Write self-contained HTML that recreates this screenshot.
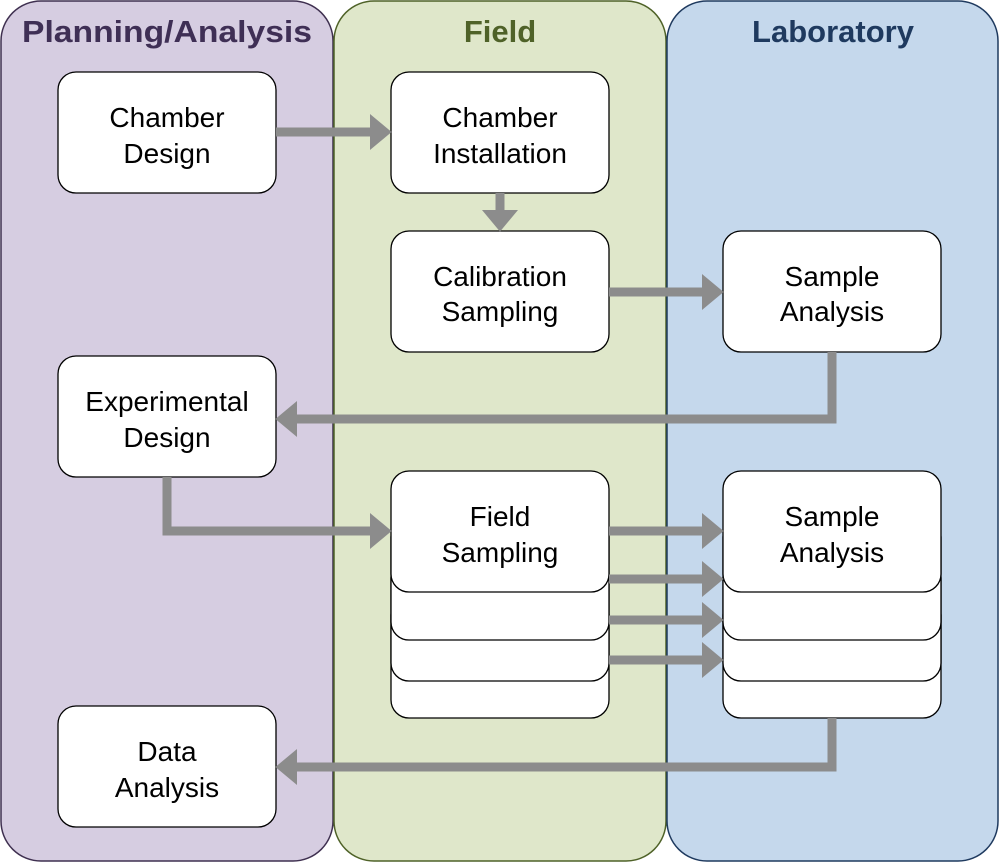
<!DOCTYPE html>
<html><head><meta charset="utf-8"><style>
html,body{margin:0;padding:0;background:#fff;}
svg{display:block;}
svg text{font-family:"Liberation Sans",Arial,sans-serif;}
</style></head><body>
<svg width="1000" height="863" viewBox="0 0 1000 863" xmlns="http://www.w3.org/2000/svg" font-family="Liberation Sans, Arial, sans-serif">
<defs>
<marker id="ah" markerWidth="3" markerHeight="4" refX="0" refY="2" orient="auto" markerUnits="strokeWidth">
<path d="M0,0 L2.4,2 L0,4 Z" fill="#8c8c8c"/>
</marker>
</defs>
<rect x="1" y="1" width="332" height="860" rx="40" fill="#d6cde1" stroke="#3f3050" stroke-width="1.5"/>
<rect x="334" y="1" width="332" height="860" rx="40" fill="#dfe7ca" stroke="#4f6228" stroke-width="1.5"/>
<rect x="667" y="1" width="331" height="860" rx="40" fill="#c5d8ec" stroke="#1f3a5f" stroke-width="1.5"/>
<g font-family="Liberation Sans, Arial, sans-serif" font-weight="bold" text-anchor="middle">
<text x="167" y="42" font-size="31" fill="#3f2f55" textLength="290" lengthAdjust="spacingAndGlyphs">Planning/Analysis</text>
<text x="500" y="42" font-size="31" fill="#4f6228">Field</text>
<text x="833" y="42" font-size="31" fill="#1f3a5f">Laboratory</text>
</g>

<g fill="#fff" stroke="#000" stroke-width="1.3">
<rect x="58" y="72" width="218" height="121" rx="18"/>
<rect x="391" y="72" width="218" height="121" rx="18"/>
<rect x="391" y="231" width="218" height="121" rx="18"/>
<rect x="723" y="231" width="218" height="121" rx="18"/>
<rect x="58" y="356" width="218" height="121" rx="18"/>
<rect x="58" y="706" width="218" height="121" rx="18"/>
<rect x="391" y="597" width="218" height="121" rx="18"/>
<rect x="391" y="560" width="218" height="121" rx="18"/>
<rect x="391" y="519" width="218" height="121" rx="18"/>
<rect x="391" y="471" width="218" height="121" rx="18"/>
<rect x="723" y="597" width="218" height="121" rx="18"/>
<rect x="723" y="560" width="218" height="121" rx="18"/>
<rect x="723" y="519" width="218" height="121" rx="18"/>
<rect x="723" y="471" width="218" height="121" rx="18"/>
</g>

<g font-family="Liberation Sans, Arial, sans-serif" font-size="28" fill="#000" text-anchor="middle">
<text x="167" y="127">Chamber</text><text x="167" y="163">Design</text>
<text x="500" y="127">Chamber</text><text x="500" y="163">Installation</text>
<text x="500" y="286">Calibration</text><text x="500" y="321">Sampling</text>
<text x="832" y="286">Sample</text><text x="832" y="321">Analysis</text>
<text x="167" y="411">Experimental</text><text x="167" y="447">Design</text>
<text x="500" y="526">Field</text><text x="500" y="562">Sampling</text>
<text x="832" y="526">Sample</text><text x="832" y="562">Analysis</text>
<text x="167" y="761">Data</text><text x="167" y="797">Analysis</text>
</g>

<g stroke="#8c8c8c" stroke-width="9" fill="none" marker-end="url(#ah)">
<path d="M276,132 H370"/>
<path d="M500,193 V210"/>
<path d="M609,292 H702"/>
<path d="M832,352 V419 H297"/>
<path d="M167,477 V531 H370"/>
<path d="M609,531 H702"/>
<path d="M609,579 H702"/>
<path d="M609,620 H702"/>
<path d="M609,660 H702"/>
<path d="M832,718 V767 H297"/>
</g>
</svg>
</body></html>
